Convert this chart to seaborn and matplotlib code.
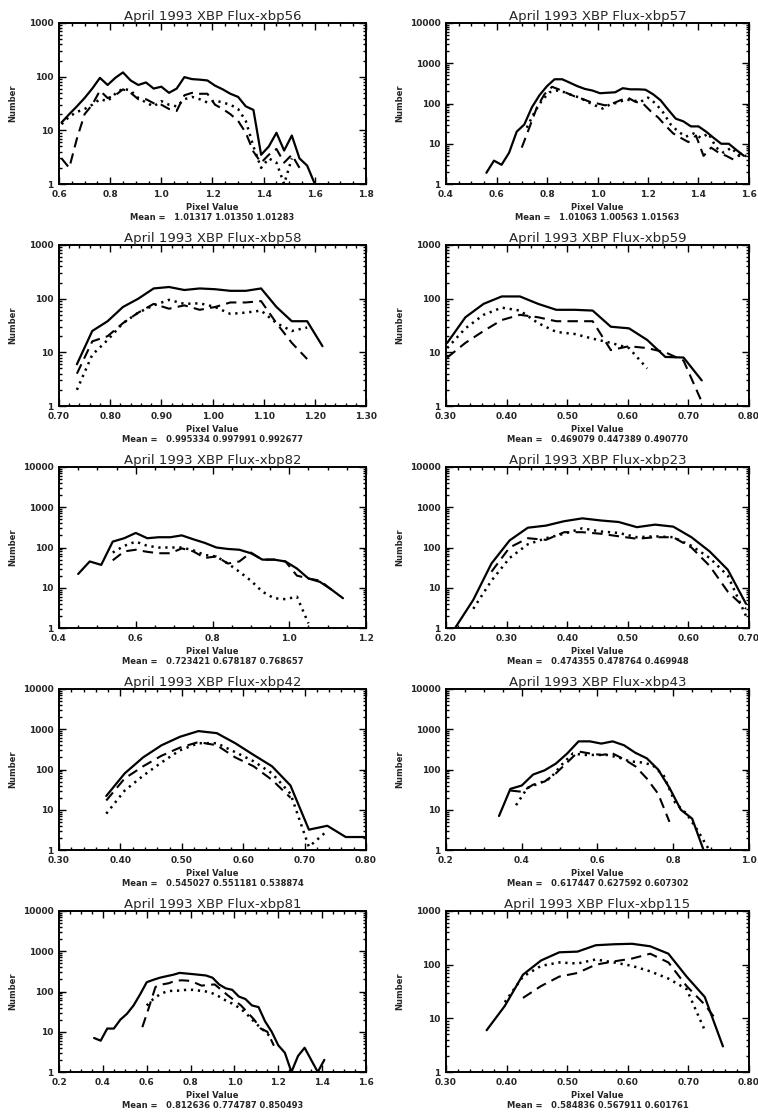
import numpy as np
import matplotlib
matplotlib.use('Agg')
import matplotlib.pyplot as plt
import seaborn as sns
from matplotlib.ticker import FixedLocator, FixedFormatter, LogLocator, NullFormatter, AutoMinorLocator

# ---- xbp56 ----
p56_sx = [0.61, 0.64, 0.67, 0.70, 0.73, 0.76, 0.79, 0.82, 0.85, 0.88, 0.91, 0.94, 0.97, 1.00, 1.03, 1.06, 1.09,
          1.12, 1.15, 1.18, 1.21, 1.24, 1.27, 1.30, 1.33, 1.36, 1.39, 1.42, 1.45, 1.48, 1.51, 1.54, 1.57, 1.60]
p56_sy = [14, 20, 28, 40, 60, 95, 70, 95, 120, 85, 70, 78, 60, 65, 50, 60, 98,
          90, 88, 85, 68, 58, 48, 42, 28, 24, 3.5, 5, 9, 4.2, 8, 3, 2.2, 1]
p56_dx = [0.61, 0.64, 0.67, 0.70, 0.73, 0.76, 0.79, 0.82, 0.85, 0.88, 0.91, 0.94, 0.97, 1.00, 1.03, 1.06,
          1.09, 1.12, 1.15, 1.18, 1.21, 1.24, 1.27, 1.30, 1.33, 1.36, 1.39, 1.42, 1.45, 1.48, 1.51, 1.54]
p56_dy = [3, 2, 7, 20, 30, 55, 40, 45, 58, 50, 38, 38, 32, 30, 25, 23,
          45, 50, 48, 48, 30, 25, 20, 15, 9, 4, 2.5, 3.5, 4.5, 2.5, 3.5, 2]
p56_ox = [0.61, 0.64, 0.67, 0.70, 0.73, 0.76, 0.79, 0.82, 0.85, 0.88, 0.91, 0.94, 0.97, 1.00, 1.03, 1.06,
          1.09, 1.12, 1.15, 1.18, 1.21, 1.24, 1.27, 1.30, 1.33, 1.36, 1.39, 1.42, 1.45, 1.48, 1.51]
p56_oy = [13, 18, 22, 25, 30, 38, 35, 48, 60, 55, 40, 33, 28, 35, 30, 28,
          38, 42, 38, 33, 36, 33, 30, 25, 15, 5, 2, 3, 2.5, 1, 3]

# ---- xbp57 ----
p57_sx = [0.56, 0.59, 0.62, 0.65, 0.68, 0.71, 0.74, 0.77, 0.80, 0.83, 0.86, 0.89, 0.92, 0.95, 0.98, 1.01, 1.04, 1.07,
          1.10, 1.13, 1.16, 1.19, 1.22, 1.25, 1.28, 1.31, 1.34, 1.37, 1.40, 1.43, 1.46, 1.49, 1.52, 1.55, 1.58]
p57_sy = [1.9, 3.8, 3, 6, 20, 30, 80, 160, 270, 400, 400, 330, 270, 230, 210, 180, 185, 190,
          240, 225, 225, 220, 170, 120, 70, 42, 36, 27, 27, 20, 14, 10, 10, 7, 5]
p57_dx = [0.70, 0.73, 0.76, 0.79, 0.82, 0.85, 0.88, 0.91, 0.94, 0.97, 1.00, 1.03, 1.06, 1.09, 1.12,
          1.15, 1.18, 1.21, 1.24, 1.27, 1.30, 1.33, 1.36, 1.39, 1.42, 1.45, 1.48, 1.51, 1.54, 1.57]
p57_dy = [8, 25, 80, 170, 260, 220, 180, 150, 130, 110, 100, 90, 100, 120, 140,
          110, 100, 65, 45, 28, 18, 14, 11, 16, 5, 8, 6, 5, 4, 6]
p57_ox = [0.72, 0.75, 0.78, 0.81, 0.84, 0.87, 0.90, 0.93, 0.96, 0.99, 1.02, 1.05, 1.08, 1.11, 1.14,
          1.17, 1.20, 1.23, 1.26, 1.29, 1.32, 1.35, 1.38, 1.41, 1.44, 1.47, 1.50, 1.53, 1.56, 1.59]
p57_oy = [25, 60, 120, 190, 210, 190, 160, 140, 110, 90, 75, 95, 105, 125, 120,
          110, 140, 100, 60, 30, 20, 15, 18, 14, 18, 8, 6, 8, 5, 5]

# ---- xbp58 ----
p58_sx = [0.735, 0.765, 0.795, 0.825, 0.855, 0.885, 0.915, 0.945, 0.975, 1.005, 1.035, 1.065, 1.095,
          1.125, 1.155, 1.185, 1.215]
p58_sy = [6, 25, 38, 70, 100, 155, 165, 145, 155, 150, 140, 140, 155, 70, 38, 38, 13]
p58_dx = [0.735, 0.765, 0.795, 0.825, 0.855, 0.885, 0.915, 0.945, 0.975, 1.005, 1.035, 1.065, 1.095,
          1.125, 1.155, 1.185]
p58_dy = [4, 16, 20, 35, 55, 80, 65, 75, 62, 70, 85, 85, 90, 35, 15, 7.5]
p58_ox = [0.735, 0.765, 0.795, 0.825, 0.855, 0.885, 0.915, 0.945, 0.975, 1.005, 1.035, 1.065, 1.095,
          1.125, 1.155, 1.185]
p58_oy = [2, 9, 17, 35, 55, 75, 95, 80, 82, 70, 52, 55, 60, 35, 25, 29]

# ---- xbp59 ----
p59_sx = [0.302, 0.332, 0.362, 0.392, 0.422, 0.452, 0.482, 0.512, 0.542, 0.572, 0.602, 0.632, 0.662, 0.692, 0.722]
p59_sy = [15, 45, 80, 110, 110, 80, 62, 62, 60, 30, 28, 17, 8.2, 8, 3]
p59_dx = [0.302, 0.332, 0.362, 0.392, 0.422, 0.452, 0.482, 0.512, 0.542, 0.572, 0.602, 0.632, 0.662, 0.692, 0.722]
p59_dy = [8, 15, 25, 40, 50, 45, 38, 38, 38, 11, 13, 12, 10, 7, 1.2]
p59_ox = [0.302, 0.332, 0.362, 0.392, 0.422, 0.452, 0.482, 0.512, 0.542, 0.572, 0.602, 0.632]
p59_oy = [12, 28, 50, 68, 60, 35, 24, 22, 18, 15, 12, 5]

# ---- xbp82 ----
p82_sx = [0.45, 0.48, 0.51, 0.54, 0.57, 0.60, 0.63, 0.66, 0.69, 0.72, 0.75, 0.78, 0.81, 0.84, 0.87, 0.90,
          0.93, 0.96, 0.99, 1.02, 1.05, 1.08, 1.11, 1.14]
p82_sy = [22, 45, 37, 140, 170, 230, 170, 180, 180, 200, 160, 130, 100, 92, 88, 72,
          50, 50, 45, 30, 17, 14, 9, 5.5]
p82_dx = [0.54, 0.57, 0.60, 0.63, 0.66, 0.69, 0.72, 0.75, 0.78, 0.81, 0.84, 0.87, 0.90, 0.93, 0.96, 0.99,
          1.02, 1.05, 1.08, 1.11]
p82_dy = [48, 80, 88, 78, 72, 72, 95, 80, 55, 60, 40, 45, 75, 50, 50, 45, 20, 17, 15, 9]
p82_ox = [0.54, 0.57, 0.60, 0.63, 0.66, 0.69, 0.72, 0.75, 0.78, 0.81, 0.84, 0.87, 0.90, 0.93, 0.96, 0.99,
          1.02, 1.05]
p82_oy = [75, 110, 140, 110, 100, 100, 100, 85, 65, 60, 40, 25, 15, 8, 5.5, 5.2, 6, 1.3]

# ---- xbp23 ----
p23_sx = [0.215, 0.245, 0.275, 0.305, 0.335, 0.365, 0.395, 0.425, 0.455, 0.485, 0.515, 0.545, 0.575,
          0.605, 0.635, 0.665, 0.695]
p23_sy = [1, 5, 40, 150, 310, 350, 450, 530, 470, 430, 320, 370, 330, 180, 80, 28, 4]
p23_dx = [0.275, 0.305, 0.335, 0.365, 0.395, 0.425, 0.455, 0.485, 0.515, 0.545, 0.575,
          0.605, 0.635, 0.665, 0.695]
p23_dy = [25, 100, 170, 155, 240, 240, 220, 190, 165, 180, 180, 100, 35, 8, 3]
p23_ox = [0.245, 0.275, 0.305, 0.335, 0.365, 0.395, 0.425, 0.455, 0.485, 0.515, 0.545, 0.575,
          0.605, 0.635, 0.665, 0.695]
p23_oy = [3, 15, 55, 120, 170, 220, 300, 250, 230, 180, 190, 180, 110, 55, 20, 2]

# ---- xbp42 ----
p42_sx = [0.377, 0.407, 0.437, 0.467, 0.497, 0.527, 0.557, 0.587, 0.617, 0.647, 0.677, 0.707, 0.737, 0.767, 0.797]
p42_sy = [22, 80, 200, 400, 650, 900, 800, 450, 230, 120, 40, 3.2, 4, 2.1, 2.1]
p42_dx = [0.377, 0.407, 0.437, 0.467, 0.497, 0.527, 0.557, 0.587, 0.617, 0.647, 0.677]
p42_dy = [17, 60, 120, 220, 350, 480, 400, 200, 120, 55, 20]
p42_ox = [0.377, 0.407, 0.437, 0.467, 0.497, 0.527, 0.557, 0.587, 0.617, 0.647, 0.677, 0.707, 0.737]
p42_oy = [8, 30, 70, 150, 300, 450, 450, 270, 160, 80, 25, 1.2, 3]

# ---- xbp43 ----
p43_sx = [0.34, 0.37, 0.40, 0.43, 0.46, 0.49, 0.52, 0.55, 0.58, 0.61, 0.64, 0.67, 0.70, 0.73, 0.76,
          0.79, 0.82, 0.85, 0.88]
p43_sy = [7, 33, 40, 75, 95, 140, 250, 500, 500, 440, 500, 400, 260, 190, 100, 35, 10, 6, 1]
p43_dx = [0.37, 0.40, 0.43, 0.46, 0.49, 0.52, 0.55, 0.58, 0.61, 0.64, 0.67, 0.70, 0.73, 0.76, 0.79]
p43_dy = [30, 28, 42, 50, 80, 150, 280, 250, 230, 250, 180, 120, 60, 25, 5]
p43_ox = [0.385, 0.415, 0.445, 0.475, 0.505, 0.535, 0.565, 0.595, 0.625, 0.655, 0.685, 0.715, 0.745,
          0.775, 0.805, 0.835, 0.865, 0.895]
p43_oy = [13, 35, 45, 60, 130, 250, 230, 230, 230, 200, 160, 150, 130, 70, 15, 8, 3, 1]

# ---- xbp81 ----
p81_sx = [0.36, 0.39, 0.42, 0.45, 0.48, 0.51, 0.54, 0.57, 0.60, 0.63, 0.66, 0.69, 0.72, 0.75, 0.78, 0.81,
          0.84, 0.87, 0.90, 0.93, 0.96, 0.99, 1.02, 1.05, 1.08, 1.11, 1.14, 1.17, 1.20, 1.23, 1.26, 1.29,
          1.32, 1.35, 1.38, 1.41]
p81_sy = [7, 6, 12, 12, 20, 28, 45, 85, 170, 195, 220, 240, 260, 290, 280, 270,
          260, 250, 220, 150, 120, 110, 75, 65, 45, 41, 18, 10, 4.6, 3, 1, 2.5,
          4, 2, 1, 2]
p81_dx = [0.58, 0.61, 0.64, 0.67, 0.70, 0.73, 0.76, 0.79, 0.82, 0.85, 0.88, 0.91, 0.94, 0.97, 1.00,
          1.03, 1.06, 1.09, 1.12, 1.15, 1.18]
p81_dy = [13, 40, 130, 150, 160, 185, 190, 185, 165, 140, 145, 150, 110, 80, 60, 45, 30, 20, 12, 10, 4.5]
p81_ox = [0.60, 0.63, 0.66, 0.69, 0.72, 0.75, 0.78, 0.81, 0.84, 0.87, 0.90, 0.93, 0.96, 0.99, 1.02,
          1.05, 1.08, 1.11, 1.14, 1.17]
p81_oy = [45, 65, 85, 100, 105, 105, 110, 110, 105, 100, 90, 75, 60, 50, 40, 30, 20, 14, 10, 7]

# ---- xbp115 ----
p115_sx = [0.367, 0.397, 0.427, 0.457, 0.487, 0.517, 0.547, 0.577, 0.607, 0.637, 0.667, 0.697, 0.727, 0.757]
p115_sy = [6, 17, 65, 120, 170, 175, 230, 240, 245, 220, 160, 60, 25, 3]
p115_dx = [0.427, 0.457, 0.487, 0.517, 0.547, 0.577, 0.607, 0.637, 0.667, 0.697, 0.727, 0.747]
p115_dy = [24, 40, 60, 70, 100, 115, 130, 160, 110, 40, 18, 9]
p115_ox = [0.397, 0.427, 0.457, 0.487, 0.517, 0.547, 0.577, 0.607, 0.637, 0.667, 0.697, 0.727]
p115_oy = [20, 60, 95, 110, 105, 125, 110, 95, 75, 55, 35, 6]

names = ['xbp56', 'xbp57', 'xbp58', 'xbp59', 'xbp82', 'xbp23', 'xbp42', 'xbp43', 'xbp81', 'xbp115']
xlims = [(0.6, 1.8), (0.4, 1.6), (0.70, 1.30), (0.30, 0.80), (0.4, 1.2),
         (0.20, 0.70), (0.30, 0.80), (0.2, 1.0), (0.2, 1.6), (0.30, 0.80)]
xsteps = [0.2, 0.2, 0.1, 0.1, 0.2, 0.1, 0.1, 0.2, 0.2, 0.1]
ymaxes = [1000, 10000, 1000, 1000, 10000, 10000, 10000, 10000, 10000, 1000]
means = ['1.01317 1.01350 1.01283', '1.01063 1.00563 1.01563',
         '0.995334 0.997991 0.992677', '0.469079 0.447389 0.490770',
         '0.723421 0.678187 0.768657', '0.474355 0.478764 0.469948',
         '0.545027 0.551181 0.538874', '0.617447 0.627592 0.607302',
         '0.812636 0.774787 0.850493', '0.584836 0.567911 0.601761']

series = [
    (p56_sx, p56_sy, p56_dx, p56_dy, p56_ox, p56_oy),
    (p57_sx, p57_sy, p57_dx, p57_dy, p57_ox, p57_oy),
    (p58_sx, p58_sy, p58_dx, p58_dy, p58_ox, p58_oy),
    (p59_sx, p59_sy, p59_dx, p59_dy, p59_ox, p59_oy),
    (p82_sx, p82_sy, p82_dx, p82_dy, p82_ox, p82_oy),
    (p23_sx, p23_sy, p23_dx, p23_dy, p23_ox, p23_oy),
    (p42_sx, p42_sy, p42_dx, p42_dy, p42_ox, p42_oy),
    (p43_sx, p43_sy, p43_dx, p43_dy, p43_ox, p43_oy),
    (p81_sx, p81_sy, p81_dx, p81_dy, p81_ox, p81_oy),
    (p115_sx, p115_sy, p115_dx, p115_dy, p115_ox, p115_oy),
]

sns.set_style('ticks')
plt.rcParams['font.family'] = ['DejaVu Sans']
plt.rcParams['xtick.direction'] = 'in'
plt.rcParams['ytick.direction'] = 'in'

W, H = 758, 1118
fig = plt.figure(figsize=(W / 100, H / 100), dpi=100)
fig.patch.set_facecolor('white')

col_left = [59, 446]
col_width = [307, 303]
ax_h = 161

for i, name in enumerate(names):
    row, col = divmod(i, 2)
    top = 23 + 222 * row
    ax = fig.add_axes([col_left[col] / W, 1 - (top + ax_h) / H, col_width[col] / W, ax_h / H])
    sx, sy, dx, dy, ox, oy = series[i]

    sns.lineplot(x=sx, y=sy, ax=ax, color='black', linewidth=1.6, estimator=None, errorbar=None)
    sns.lineplot(x=dx, y=dy, ax=ax, color='black', linewidth=1.5, estimator=None, errorbar=None,
                 linestyle=(0, (5, 3)))
    sns.lineplot(x=ox, y=oy, ax=ax, color='black', linewidth=1.8, estimator=None, errorbar=None,
                 linestyle=(0, (0.9, 1.9)))

    ax.set_yscale('log')
    ax.set_ylim(1, ymaxes[i])
    x0, x1 = xlims[i]
    ax.set_xlim(x0, x1)

    # ticks
    step = xsteps[i]
    xt = np.round(np.arange(x0, x1 + step / 2, step), 3)
    ax.xaxis.set_major_locator(FixedLocator(xt))
    fmt = '%.1f' if step == 0.2 else '%.2f'
    ax.xaxis.set_major_formatter(FixedFormatter([fmt % v for v in xt]))
    ax.xaxis.set_minor_locator(AutoMinorLocator(4 if step == 0.2 else 5))
    yt = [10 ** k for k in range(int(np.log10(ymaxes[i])) + 1)]
    ax.yaxis.set_major_locator(FixedLocator(yt))
    ax.yaxis.set_major_formatter(FixedFormatter([str(v) for v in yt]))
    ax.yaxis.set_minor_locator(LogLocator(base=10, subs=np.arange(2, 10)))
    ax.yaxis.set_minor_formatter(NullFormatter())
    ax.tick_params(which='both', top=True, right=True, direction='in', width=1, color='black')
    ax.tick_params(which='major', length=5, labelsize=6.5, pad=4)
    ax.tick_params(which='minor', length=2.5)
    for lab in ax.get_xticklabels() + ax.get_yticklabels():
        lab.set_fontweight('bold')

    for sp in ax.spines.values():
        sp.set_linewidth(1.4)
        sp.set_color('black')
        sp.set_visible(True)

    ax.set_title('April 1993 XBP Flux-' + name, fontsize=9.5, pad=2.5)
    ax.set_ylabel('Number', fontsize=6, fontweight='bold')
    ax.yaxis.set_label_coords(-42 / col_width[col], 0.5)
    ax.set_xlabel('Pixel Value', fontsize=6, fontweight='bold')
    ax.xaxis.set_label_coords(0.5, -24 / ax_h)
    ax.xaxis.label.set_va('center')
    ax.text(0.5, -34 / ax_h, 'Mean =   ' + means[i], transform=ax.transAxes,
            ha='center', va='center', fontsize=6, fontweight='bold')

fig.savefig('out.png', dpi=100, facecolor='white')
